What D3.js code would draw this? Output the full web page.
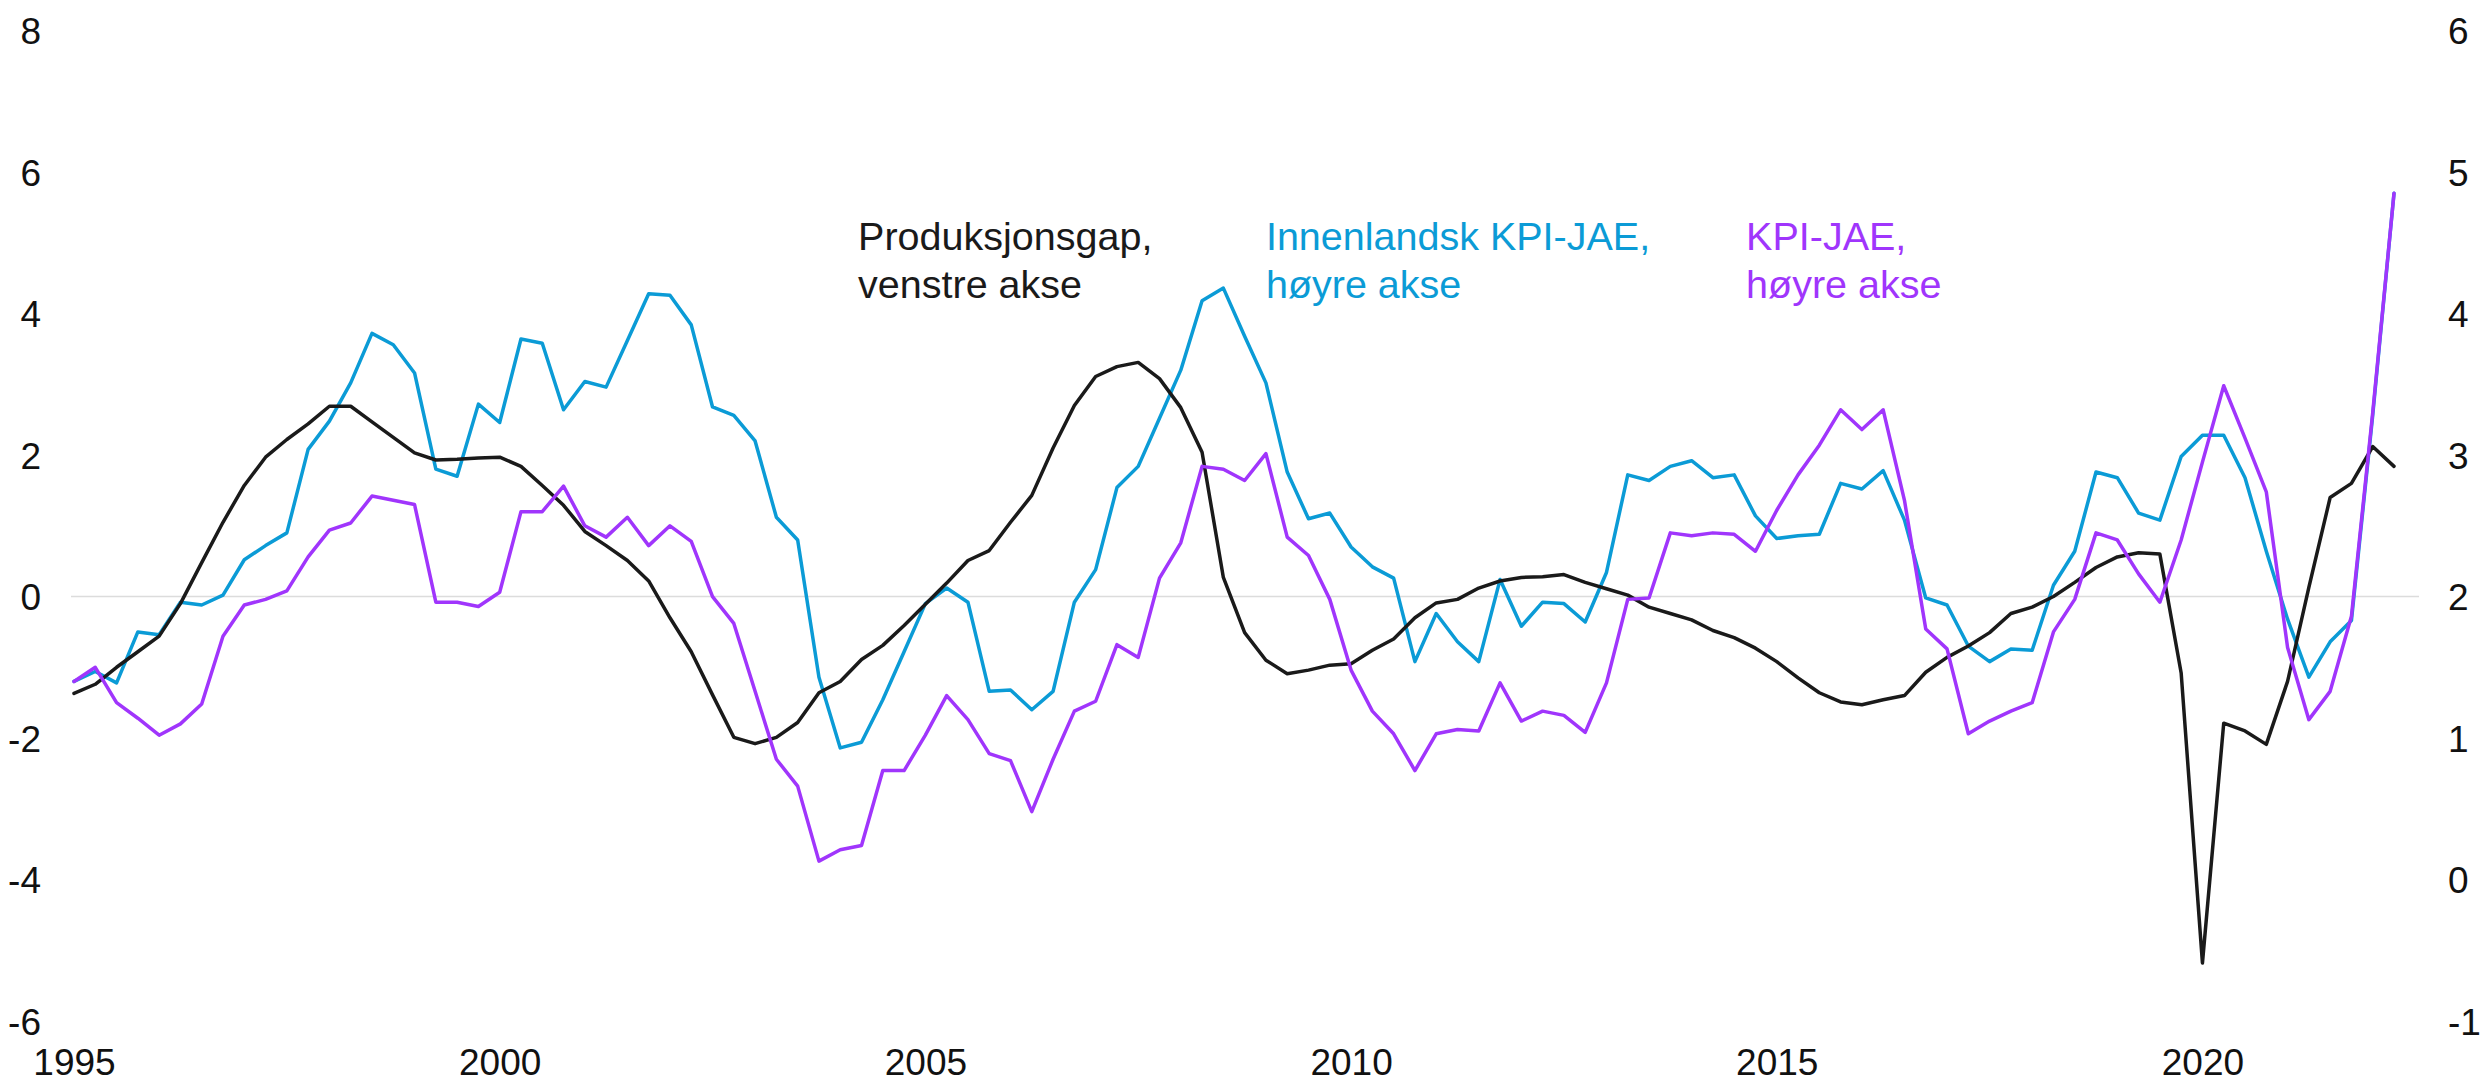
<!DOCTYPE html>
<html>
<head>
<meta charset="utf-8">
<script src="https://cdn.jsdelivr.net/npm/d3@7"></script>
<style>
  html, body { margin: 0; padding: 0; background: #ffffff; }
  svg { display: block; }
  text { font-family: "Liberation Sans", Arial, sans-serif; }
</style>
</head>
<body>
<svg id="chart" width="2486" height="1083"></svg>
<script>
// ---- Data (quarterly, 1995Q1 .. 2022Q2) ----
const startYear = 1995;
const xTickYears = [1995, 2000, 2005, 2010, 2015, 2020];
const leftTicks = [-6, -4, -2, 0, 2, 4, 6, 8];
const rightTicks = [-1, 0, 1, 2, 3, 4, 5, 6];

// Produksjonsgap (left axis)
const produksjonsgap = [
  -1.37, -1.24, -1.00, -0.78, -0.56, -0.10, 0.48, 1.05, 1.57, 1.97,
   2.22,  2.44,  2.69,  2.69,  2.47,  2.25, 2.03, 1.93, 1.94, 1.96,
   1.97,  1.84,  1.57,  1.29,  0.92,  0.72, 0.51, 0.22, -0.30, -0.78,
  -1.39, -1.99, -2.08, -1.99, -1.78, -1.36, -1.20, -0.89, -0.69, -0.41,
  -0.11,  0.19,  0.51,  0.65,  1.05,  1.43, 2.10, 2.70, 3.11, 3.25,
   3.31,  3.08,  2.67,  2.04,  0.27, -0.51, -0.90, -1.09, -1.04, -0.97,
  -0.95, -0.76, -0.60, -0.30, -0.09, -0.04, 0.12, 0.22, 0.27, 0.28,
   0.31,  0.20,  0.11,  0.02, -0.15, -0.24, -0.33, -0.48, -0.58, -0.73,
  -0.92, -1.15, -1.36, -1.49, -1.53, -1.46, -1.40, -1.07, -0.86, -0.70,
  -0.51, -0.24, -0.15,  0.00,  0.20,  0.41, 0.56, 0.62, 0.60, -1.08,
  -5.18, -1.79, -1.90, -2.09, -1.20,  0.13, 1.40, 1.60, 2.12, 1.84
];

// Innenlandsk KPI-JAE (right axis)
const innenlandskKpiJae = [
  1.40, 1.47, 1.39, 1.75, 1.73, 1.96, 1.94, 2.01, 2.26, 2.36,
  2.45, 3.04, 3.24, 3.51, 3.86, 3.78, 3.58, 2.90, 2.85, 3.36,
  3.23, 3.82, 3.79, 3.32, 3.52, 3.48, 3.81, 4.14, 4.13, 3.92,
  3.34, 3.28, 3.10, 2.56, 2.40, 1.43, 0.93, 0.97, 1.27, 1.61,
  1.95, 2.06, 1.96, 1.33, 1.34, 1.20, 1.33, 1.96, 2.19, 2.77,
  2.92, 3.26, 3.60, 4.09, 4.18, 3.84, 3.51, 2.88, 2.55, 2.59,
  2.35, 2.21, 2.13, 1.54, 1.88, 1.68, 1.54, 2.12, 1.79, 1.96,
  1.95, 1.82, 2.17, 2.86, 2.82, 2.92, 2.96, 2.84, 2.86, 2.57,
  2.41, 2.43, 2.44, 2.80, 2.76, 2.89, 2.54, 1.99, 1.94, 1.65,
  1.54, 1.63, 1.62, 2.08, 2.32, 2.88, 2.84, 2.59, 2.54, 2.99,
  3.14, 3.14, 2.84, 2.32, 1.84, 1.43, 1.68, 1.83, 3.28, 4.85
];

// KPI-JAE (right axis)
const kpiJae = [
  1.40, 1.50, 1.25, 1.14, 1.02, 1.10, 1.24, 1.72, 1.94, 1.98,
  2.04, 2.28, 2.47, 2.52, 2.71, 2.68, 2.65, 1.96, 1.96, 1.93,
  2.03, 2.60, 2.60, 2.78, 2.50, 2.42, 2.56, 2.36, 2.50, 2.39,
  2.00, 1.81, 1.33, 0.85, 0.66, 0.13, 0.21, 0.24, 0.77, 0.77,
  1.02, 1.30, 1.13, 0.89, 0.84, 0.48, 0.85, 1.19, 1.26, 1.66,
  1.57, 2.13, 2.38, 2.92, 2.90, 2.82, 3.01, 2.42, 2.29, 1.98,
  1.48, 1.19, 1.03, 0.77, 1.03, 1.06, 1.05, 1.39, 1.12, 1.19,
  1.16, 1.04, 1.39, 1.98, 1.99, 2.45, 2.43, 2.45, 2.44, 2.32,
  2.61, 2.86, 3.07, 3.32, 3.18, 3.32, 2.68, 1.77, 1.63, 1.03,
  1.12, 1.19, 1.25, 1.75, 1.98, 2.45, 2.40, 2.16, 1.96, 2.40,
  2.95, 3.49, 3.12, 2.74, 1.64, 1.13, 1.33, 1.86, 3.30, 4.85
];

const seriesLabels = [
  { lines: ["Produksjonsgap,", "venstre akse"], color: "#1a1a1a" },
  { lines: ["Innenlandsk KPI-JAE,", "høyre akse"], color: "#0b9bd6" },
  { lines: ["KPI-JAE,", "høyre akse"], color: "#a035fc" }
];

// ---- Layout ----
const svg = d3.select("#chart");
const lastT = startYear + (produksjonsgap.length - 1) / 4;

const x = d3.scaleLinear().domain([startYear, lastT]).range([74, 2394]);
const yL = d3.scaleLinear().domain([-6, 8]).range([1021, 30.6]);
const yR = d3.scaleLinear().domain([-1, 6]).range([1021, 30.6]);

const tOf = i => startYear + i / 4;
const plainFmt = d => String(d); // hyphen-minus like the reference

// zero grid line
svg.append("line")
  .attr("x1", x.range()[0] - 3)
  .attr("x2", x.range()[1] + 25)
  .attr("y1", yL(0)).attr("y2", yL(0))
  .attr("stroke", "#dcdcdc").attr("stroke-width", 1.5);

// axes
const tickFont = 37;
const gL = svg.append("g").attr("transform", "translate(41,0)")
  .call(d3.axisLeft(yL).tickValues(leftTicks).tickSize(0).tickPadding(0).tickFormat(plainFmt));
const gR = svg.append("g").attr("transform", "translate(2448,0)")
  .call(d3.axisRight(yR).tickValues(rightTicks).tickSize(0).tickPadding(0).tickFormat(plainFmt));
const gB = svg.append("g").attr("transform", "translate(0,1075)")
  .call(d3.axisBottom(x).tickValues(xTickYears).tickSize(0).tickPadding(0).tickFormat(plainFmt));

[gL, gR, gB].forEach(g => {
  g.select(".domain").remove();
  g.selectAll("text")
    .attr("font-family", '"Liberation Sans", Arial, sans-serif')
    .attr("font-size", tickFont)
    .attr("fill", "#111");
});
gB.selectAll("text").attr("y", 0).attr("dy", 0);
gL.selectAll("text").attr("dy", "0.36em");
gR.selectAll("text").attr("dy", "0.36em");

// lines
const lineL = d3.line().x((d, i) => x(tOf(i))).y(d => yL(d));
const lineR = d3.line().x((d, i) => x(tOf(i))).y(d => yR(d));

svg.append("path").datum(innenlandskKpiJae)
  .attr("d", lineR).attr("fill", "none")
  .attr("stroke", seriesLabels[1].color).attr("stroke-width", 3.5)
  .attr("stroke-linejoin", "round").attr("stroke-linecap", "round");

svg.append("path").datum(produksjonsgap)
  .attr("d", lineL).attr("fill", "none")
  .attr("stroke", seriesLabels[0].color).attr("stroke-width", 3.5)
  .attr("stroke-linejoin", "round").attr("stroke-linecap", "round");

svg.append("path").datum(kpiJae)
  .attr("d", lineR).attr("fill", "none")
  .attr("stroke", seriesLabels[2].color).attr("stroke-width", 3.5)
  .attr("stroke-linejoin", "round").attr("stroke-linecap", "round");

// series labels (placed in data coordinates: year on x, left-axis value on y)
const labelPos = [
  { t: 2004.21, v: 4.90 },
  { t: 2009.00, v: 4.90 },
  { t: 2014.64, v: 4.90 }
];
seriesLabels.forEach((s, k) => {
  const t = svg.append("text")
    .attr("x", x(labelPos[k].t))
    .attr("y", yL(labelPos[k].v))
    .attr("font-size", 39.5)
    .attr("fill", s.color);
  s.lines.forEach((ln, j) => {
    t.append("tspan").attr("x", x(labelPos[k].t)).attr("dy", j === 0 ? 0 : 48).text(ln);
  });
});
</script>
</body>
</html>
